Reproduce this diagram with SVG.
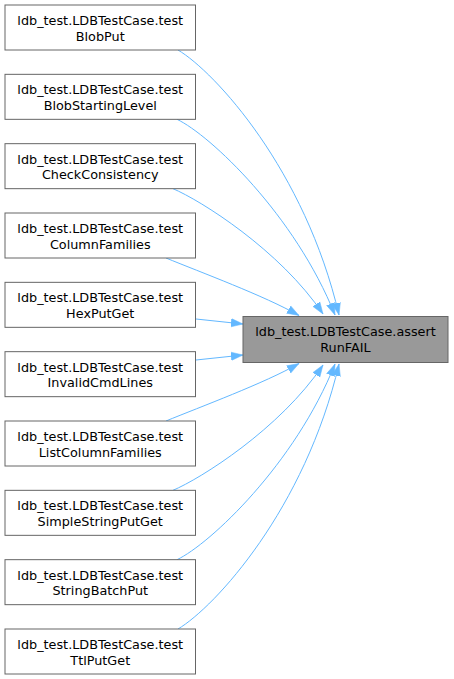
<svg xmlns="http://www.w3.org/2000/svg" width="454" height="679" viewBox="0 0 454 679">
<style>
.n rect{fill:#ffffff;stroke:#666666;stroke-width:1}
.n.f rect{fill:#999999}
.n text{font-family:"DejaVu Sans",sans-serif;font-size:12.8px;fill:#000000;text-anchor:middle}
.e path{fill:none;stroke:#63b8ff;stroke-width:1}
</style>
<defs>
<marker id="ah" markerUnits="userSpaceOnUse" markerWidth="13" markerHeight="10" refX="12" refY="5" orient="auto" viewBox="0 0 13 10">
<path d="M0,0.8 L12,5 L0,9.2 z" fill="#63b8ff" stroke="#63b8ff" stroke-width="0.5"/>
</marker>
</defs>
<g id="edges" class="e">
<path marker-end="url(#ah)" d="M178,50 C215,72 305,170 339,315"/>
<path marker-end="url(#ah)" d="M177,119.3 C210,135 295,215 335,315"/>
<path marker-end="url(#ah)" d="M173,188.7 C200,200 280,250 323,314"/>
<path marker-end="url(#ah)" d="M166,258 C200,272 265,296 299,315.5"/>
<path marker-end="url(#ah)" d="M196,319 L243,324"/>
<path marker-end="url(#ah)" d="M196,360 L243,355"/>
<path marker-end="url(#ah)" d="M166,421 C200,407 265,383 299,363.5"/>
<path marker-end="url(#ah)" d="M173,490.3 C200,479 280,429 323,365"/>
<path marker-end="url(#ah)" d="M177,559.7 C210,544 295,464 335,364"/>
<path marker-end="url(#ah)" d="M178,629 C215,607 305,509 339,364"/>
</g>
<g id="node_target" class="n f">
<rect x="243" y="316.5" width="205" height="46"/>
<text x="345.5" y="336">ldb_test.LDBTestCase.assert</text>
<text x="345.5" y="351.5">RunFAIL</text>
</g>
<g id="node1" class="n">
<rect x="5" y="5" width="190.5" height="45"/>
<text x="100.25" y="25">ldb_test.LDBTestCase.test</text>
<text x="100.25" y="40.5">BlobPut</text>
</g>
<g id="node2" class="n">
<rect x="5" y="74.33" width="190.5" height="45"/>
<text x="100.25" y="94.33">ldb_test.LDBTestCase.test</text>
<text x="100.25" y="109.83">BlobStartingLevel</text>
</g>
<g id="node3" class="n">
<rect x="5" y="143.67" width="190.5" height="45"/>
<text x="100.25" y="163.67">ldb_test.LDBTestCase.test</text>
<text x="100.25" y="179.17">CheckConsistency</text>
</g>
<g id="node4" class="n">
<rect x="5" y="213" width="190.5" height="45"/>
<text x="100.25" y="233">ldb_test.LDBTestCase.test</text>
<text x="100.25" y="248.5">ColumnFamilies</text>
</g>
<g id="node5" class="n">
<rect x="5" y="282.33" width="190.5" height="45"/>
<text x="100.25" y="302.33">ldb_test.LDBTestCase.test</text>
<text x="100.25" y="317.83">HexPutGet</text>
</g>
<g id="node6" class="n">
<rect x="5" y="351.67" width="190.5" height="45"/>
<text x="100.25" y="371.67">ldb_test.LDBTestCase.test</text>
<text x="100.25" y="387.17">InvalidCmdLines</text>
</g>
<g id="node7" class="n">
<rect x="5" y="421" width="190.5" height="45"/>
<text x="100.25" y="441">ldb_test.LDBTestCase.test</text>
<text x="100.25" y="456.5">ListColumnFamilies</text>
</g>
<g id="node8" class="n">
<rect x="5" y="490.33" width="190.5" height="45"/>
<text x="100.25" y="510.33">ldb_test.LDBTestCase.test</text>
<text x="100.25" y="525.83">SimpleStringPutGet</text>
</g>
<g id="node9" class="n">
<rect x="5" y="559.67" width="190.5" height="45"/>
<text x="100.25" y="579.67">ldb_test.LDBTestCase.test</text>
<text x="100.25" y="595.17">StringBatchPut</text>
</g>
<g id="node10" class="n">
<rect x="5" y="629" width="190.5" height="45"/>
<text x="100.25" y="649">ldb_test.LDBTestCase.test</text>
<text x="100.25" y="664.5">TtlPutGet</text>
</g>
</svg>
